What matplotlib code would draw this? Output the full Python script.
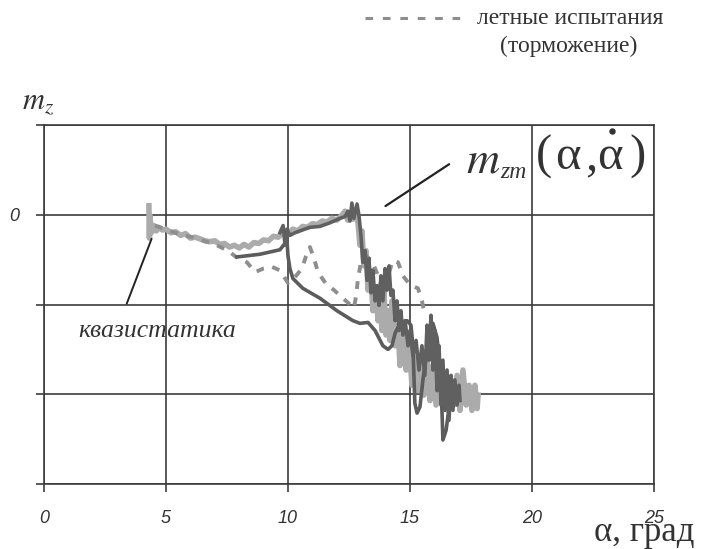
import matplotlib
matplotlib.use("Agg")
import matplotlib.pyplot as plt
from matplotlib.lines import Line2D

# ---------------- data ----------------
x_ticks = [0, 5, 10, 15, 20, 25]
x_tick_labels = ["0", "5", "10", "15", "20", "25"]
y_ticks = [-0.3, -0.2, -0.1, 0.0, 0.1]
y_tick_labels = ["", "", "", "0", ""]

# light gray noisy curve
q_x = [4.30, 4.32, 4.34, 4.40, 4.50, 4.60, 4.70, 4.85, 5.00, 5.20, 5.40, 5.60, 5.80, 6.00,
       6.20, 6.40, 6.60, 6.80, 7.00, 7.20, 7.40, 7.60, 7.80, 8.00, 8.20, 8.40, 8.60, 8.80,
       9.00, 9.20, 9.40, 9.60, 9.80, 10.00, 10.20, 10.40, 10.60, 10.80, 11.00, 11.20, 11.40,
       11.60, 11.80, 12.00, 12.20, 12.34, 12.45, 12.54, 12.65, 12.75, 12.87,
       12.95, 13.03, 13.11, 13.20, 13.28, 13.40, 13.48, 13.61, 13.69, 13.77,
       13.85, 13.93, 14.02, 14.10, 14.18, 14.26, 14.39, 14.51, 14.59, 14.71, 14.84, 14.96,
       15.08, 15.20, 15.33, 15.45, 15.57, 15.70, 15.82, 15.94, 16.07, 16.19, 16.31, 16.43,
       16.56, 16.68, 16.80, 16.93, 17.05, 17.17, 17.30, 17.42, 17.54, 17.66, 17.75, 17.79]
q_y = [0.010, -0.026, -0.001, -0.020, -0.012, -0.018, -0.014, -0.017, -0.016, -0.020, -0.019,
       -0.023, -0.021, -0.026, -0.025, -0.027, -0.029, -0.030, -0.029, -0.033, -0.032, -0.036,
       -0.034, -0.037, -0.033, -0.036, -0.031, -0.032, -0.028, -0.029, -0.024, -0.025, -0.020,
       -0.021, -0.016, -0.018, -0.013, -0.014, -0.010, -0.011, -0.007, -0.008, -0.004, -0.006,
       -0.001, 0.004, -0.006, 0.001, -0.005, 0.002, -0.009,
       -0.034, -0.018, -0.057, -0.040,
       -0.084, -0.062, -0.107, -0.084, -0.118, -0.096, -0.129, -0.084, -0.134, -0.107, -0.140,
       -0.096, -0.146, -0.123, -0.168, -0.129, -0.173, -0.140, -0.190, -0.146, -0.196, -0.157,
       -0.201, -0.162, -0.207, -0.168, -0.212, -0.173, -0.207, -0.179, -0.218, -0.184, -0.212,
       -0.179, -0.218, -0.173, -0.212, -0.190, -0.218, -0.190, -0.216, -0.201]

# dashed flight test (braking)
f_x = [4.55, 5.37, 6.19, 7.01, 7.54, 7.87, 8.32, 8.65, 8.98, 9.34, 9.67, 10.00, 10.33, 10.57,
       10.74, 10.90, 11.07, 11.23, 11.56, 11.89, 12.21, 12.54, 12.70, 12.79, 12.87, 12.99,
       13.20, 13.44, 13.69, 13.93, 14.10, 14.30, 14.51, 14.71, 15.00, 15.33, 15.49, 15.61]
f_y = [-0.012, -0.020, -0.026, -0.033, -0.040, -0.047, -0.053, -0.064, -0.060, -0.058, -0.062,
       -0.076, -0.068, -0.060, -0.046, -0.036, -0.049, -0.064, -0.077, -0.084, -0.092, -0.100,
       -0.104, -0.091, -0.071, -0.053, -0.046, -0.051, -0.068, -0.087, -0.068, -0.051, -0.053,
       -0.068, -0.078, -0.082, -0.096, -0.112]

# dark noisy curve
d_x = [9.67, 9.80, 9.88, 9.96, 10.08, 10.29, 10.49, 10.90, 11.31, 11.72, 12.13, 12.34, 12.46,
       12.54, 12.62, 12.70, 12.83, 12.91, 12.99, 13.07, 13.16, 13.24, 13.32, 13.40, 13.48,
       13.57, 13.65, 13.73, 13.81, 13.89, 13.98, 14.06, 14.14, 14.22, 14.30, 14.39, 14.47,
       14.55, 14.63, 14.71, 14.80, 14.92, 15.00, 15.12, 15.25, 15.37, 15.49, 15.61, 15.70,
       15.78, 15.86, 15.94, 16.02, 16.11, 16.19, 16.27, 16.35, 16.43, 16.52, 16.60, 16.68,
       16.76, 16.84, 16.93, 17.01, 17.05]
d_y = [-0.020, -0.012, -0.034, -0.016, -0.023, -0.020, -0.018, -0.014, -0.013, -0.009, -0.004,
       -0.002, 0.004, -0.007, 0.013, -0.004, 0.012, -0.001, -0.023, -0.053, -0.040, -0.073,
       -0.049, -0.087, -0.062, -0.096, -0.079, -0.101, -0.068, -0.096, -0.060, -0.084, -0.057,
       -0.090, -0.084, -0.118, -0.096, -0.129, -0.107, -0.134, -0.118, -0.146, -0.129, -0.157,
       -0.140, -0.173, -0.146, -0.179, -0.123, -0.162, -0.112, -0.173, -0.129, -0.196, -0.146,
       -0.212, -0.162, -0.218, -0.173, -0.229, -0.179, -0.218, -0.184, -0.212, -0.190, -0.207]

# smooth model curve m_zm(alpha, alpha_dot)
m_x = [7.91, 8.85, 9.67, 9.96, 10.00, 10.08, 10.20, 10.61, 11.31, 12.01, 12.66, 12.95, 13.28,
       13.57, 13.89, 14.10, 14.26, 14.39, 14.59, 14.88, 15.04, 15.12, 15.20, 15.29, 15.41,
       15.53, 15.74, 15.94, 16.11, 16.23, 16.31, 16.35, 16.48, 16.64, 16.84]
m_y = [-0.047, -0.044, -0.039, -0.029, -0.046, -0.060, -0.071, -0.082, -0.093, -0.107, -0.118,
       -0.121, -0.120, -0.129, -0.146, -0.150, -0.146, -0.132, -0.121, -0.118, -0.123, -0.146,
       -0.210, -0.221, -0.214, -0.184, -0.143, -0.121, -0.137, -0.173, -0.218, -0.251, -0.240,
       -0.207, -0.196]

# ---------------- figure ----------------
fig = plt.figure(figsize=(7.2, 5.49), dpi=100)
ax = fig.add_axes([0.0611, 0.1184, 0.8472, 0.6539])

grid_c = "#3c3c3c"
txt_c = "#333333"
ax.set_xlim(0, 25)
ax.set_ylim(-0.3, 0.1)
ax.set_xticks(x_ticks)
ax.set_xticklabels(x_tick_labels, fontfamily="Liberation Sans", fontstyle="italic",
                   fontsize=13, color=txt_c)
ax.set_yticks(y_ticks)
ax.set_yticklabels(y_tick_labels, fontfamily="Liberation Sans", fontstyle="italic",
                   fontsize=13, color=txt_c)
ax.tick_params(axis="x", direction="out", length=6, width=1.2, color=grid_c, pad=13)
ax.tick_params(axis="y", direction="out", length=6, width=1.2, color=grid_c, pad=12)
ax.grid(True, color=grid_c, linewidth=1.2)
for s in ax.spines.values():
    s.set_color(grid_c)
    s.set_linewidth(1.2)

ax.plot(q_x, q_y, color="#ababab", lw=4.0, zorder=3)
ax.plot(f_x, f_y, color="#8e8e8e", lw=2.8, ls=(0, (2.0, 2.2)), zorder=4)
ax.plot(m_x, m_y, color="#5c5c5c", lw=2.6, zorder=5)
ax.plot(d_x, d_y, color="#606060", lw=2.6, zorder=5)

# annotations
ax.annotate("", xy=(4.45, -0.024), xytext=(3.35, -0.102),
            arrowprops=dict(arrowstyle="-", color="#222222", lw=1.4))
ax.text(1.4, -0.129, "квазистатика", fontfamily="Liberation Serif", fontstyle="italic",
        fontsize=18.5, color=txt_c, va="center", ha="left")
ax.annotate("", xy=(13.9, 0.008), xytext=(16.7, 0.058),
            arrowprops=dict(arrowstyle="-", color="#222222", lw=1.6))

fig.text(466 / 720, 1 - 160 / 549, "$m$", fontsize=33, color=txt_c, va="center",
         ha="left", math_fontfamily="stix")
fig.text(500 / 720, 1 - 172 / 549, "zm", fontfamily="Liberation Serif", fontstyle="italic",
         fontsize=17, color=txt_c, va="center", ha="left")
serif_big = dict(fontfamily="Liberation Serif", fontsize=35, color=txt_c, va="center")
fig.text(536 / 720, 1 - 157 / 549, "(", ha="left", **serif_big)
fig.text(555 / 720, 1 - 157 / 549, "α", ha="left", **serif_big)
fig.text(585 / 720, 1 - 157 / 549, ",", ha="left", **serif_big)
fig.text(597 / 720, 1 - 157 / 549, "α", ha="left", **serif_big)
fig.text(629 / 720, 1 - 157 / 549, ")", ha="left", **serif_big)
# time-derivative dot over the second alpha
fig.add_artist(Line2D([612 / 720], [1 - 131 / 549], transform=fig.transFigure,
                      marker="o", ms=3.6, color=txt_c, lw=0))

fig.text(22 / 720, 1 - 102 / 549, "$m_z$", fontsize=22, color=txt_c, va="center",
         ha="left", math_fontfamily="stix")
fig.text(594 / 720, 1 - 541 / 549, "α, град", fontfamily="Liberation Serif", fontsize=25,
         color=txt_c, va="baseline", ha="left")

# legend line at top
fig.add_artist(Line2D([365 / 720, 463 / 720], [1 - 18 / 549, 1 - 18 / 549],
                      transform=fig.transFigure, color="#8e8e8e", lw=2.2,
                      ls=(0, (2.5, 3.2))))
fig.text(477 / 720, 1 - 18 / 549, "летные испытания", fontfamily="Liberation Serif",
         fontsize=17, color=txt_c, va="center", ha="left")
fig.text(569 / 720, 1 - 46 / 549, "(торможение)", fontfamily="Liberation Serif",
         fontsize=17, color=txt_c, va="center", ha="center")

fig.savefig("out.png", dpi=100)
